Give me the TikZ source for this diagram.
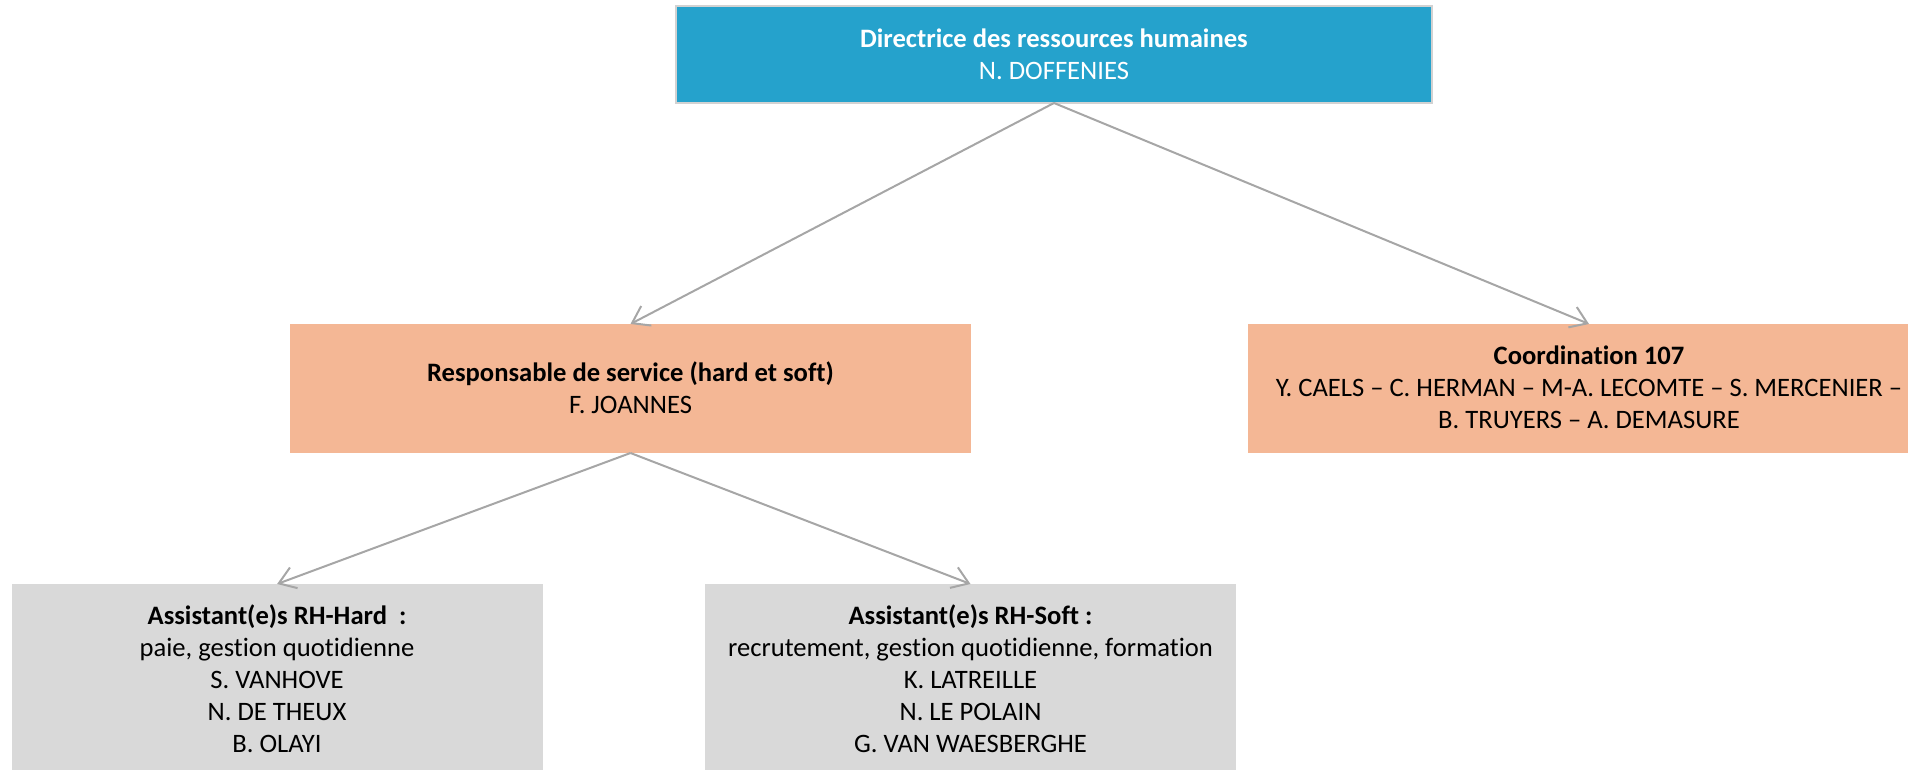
\documentclass[tikz,border=0pt]{standalone}
\usepackage{fontspec}
\setmainfont{Carlito}[Ligatures=NoCommon]
\usetikzlibrary{arrows.meta}
\definecolor{topblue}{HTML}{25A2CC}
\definecolor{orangebox}{HTML}{F4B795}
\definecolor{graybox}{HTML}{D9D9D9}
\definecolor{connc}{HTML}{A6A6A6}
\definecolor{topborder}{HTML}{D2D2D2}
\begin{document}
\begin{tikzpicture}[x=1pt,y=-1pt,
  box/.style={rectangle, inner sep=0pt, outer sep=0pt, anchor=north west},
  txt/.style={inner sep=0pt, outer sep=0pt, anchor=base, align=center,
    font=\fontsize{26.6}{32}\selectfont},
  connector/.style={draw=connc, line width=2pt,
    -{Straight Barb[length=16pt,width=22pt,line width=2pt]}}]
\useasboundingbox (0,0) rectangle (1908,770);
\clip (0,0) rectangle (1908,770);
% boxes
\node[box, fill=topblue, draw=topborder, line width=2pt,
  minimum width=756pt, minimum height=97pt] (dir) at (676,6) {};
\node[box, fill=orangebox, minimum width=681pt, minimum height=129pt] (resp) at (290,324) {};
\node[box, fill=orangebox, minimum width=682pt, minimum height=129pt] (coord) at (1248,324) {};
\node[box, fill=graybox, minimum width=531pt, minimum height=200pt] (hard) at (11.6,584) {};
\node[box, fill=graybox, minimum width=531pt, minimum height=200pt] (soft) at (705,584) {};
% texts (anchor = baseline of last line)
\node[txt, text=white] (dirtxt) at (1054,80)
  {\textbf{Directrice des ressources humaines}\\N. DOFFENIES};
\node[txt] (resptxt) at (630.5,413)
  {\textbf{Responsable de service (hard et soft)}\\F. JOANNES};
\node[txt] (coordtxt) at (1589,428)
  {\textbf{Coordination 107}\\Y. CAELS – C. HERMAN – M-A. LECOMTE – S. MERCENIER –\\B. TRUYERS – A. DEMASURE};
\node[txt] (hardtxt) at (277,752.5)
  {\textbf{Assistant(e)s RH-Hard\ \ :}\\paie, gestion quotidienne\\S. VANHOVE\\N. DE THEUX\\B. OLAYI};
\node[txt] (softtxt) at (970.5,752.5)
  {\textbf{Assistant(e)s RH-Soft :}\\recrutement, gestion quotidienne, formation\\K. LATREILLE\\N. LE POLAIN\\G. VAN WAESBERGHE};
% connectors
\draw[connector] (dir.south) -- (resp.north);
\draw[connector] (dir.south) -- (coord.north);
\draw[connector] (resp.south) -- (hard.north);
\draw[connector] (resp.south) -- (soft.north);
\end{tikzpicture}
\end{document}
